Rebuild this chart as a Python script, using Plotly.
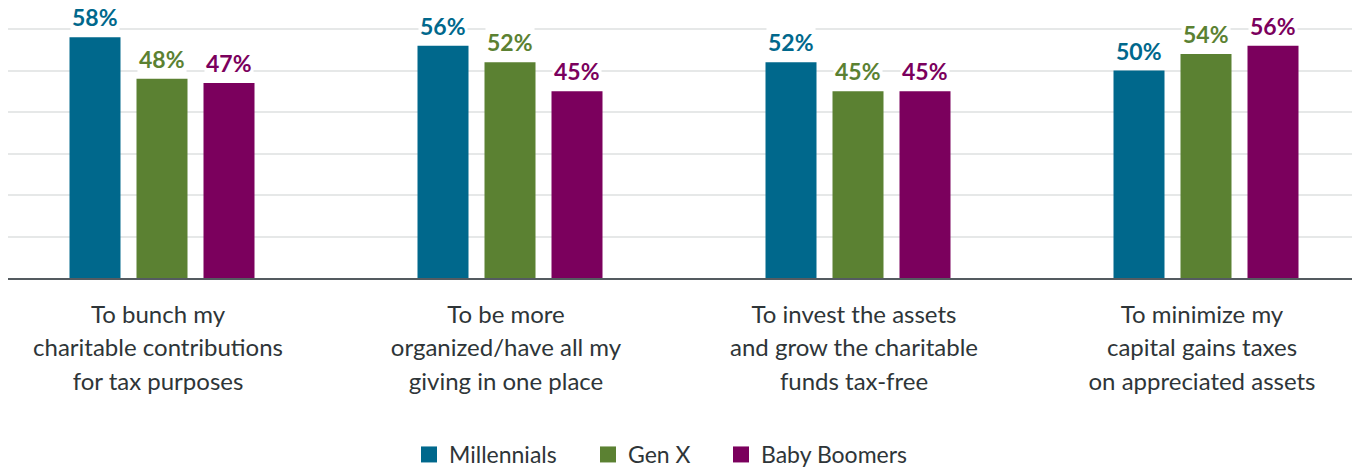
import plotly.graph_objects as go

categories = [
    "To bunch my<br>charitable contributions<br>for tax purposes",
    "To be more<br>organized/have all my<br>giving in one place",
    "To invest the assets<br>and grow the charitable<br>funds tax-free",
    "To minimize my<br>capital gains taxes<br>on appreciated assets",
]
series_names = ["Millennials", "Gen X", "Baby Boomers"]
millennials = [58, 56, 52, 50]
gen_x = [48, 52, 45, 54]
baby_boomers = [47, 45, 45, 56]
series_values = [millennials, gen_x, baby_boomers]
colors = ["#00688C", "#5B8132", "#7B005D"]
y_ticks = [0, 10, 20, 30, 40, 50, 60]

W, H = 1353, 468
ML, MR, MT, MB = 8, 1, 27, 190
plot_w = W - ML - MR
cat_px = 348.0
bar_slot_px = 67.0
bar_w_px = 51.0
first_center_px = 162.0
label_shift_px = -4.0
x0 = (ML - first_center_px) / cat_px
x1 = x0 + plot_w / cat_px
xs = list(range(len(categories)))

fig = go.Figure()
for i, (name, vals, col) in enumerate(zip(series_names, series_values, colors)):
    fig.add_trace(go.Bar(
        x=xs, y=vals, name=name,
        marker=dict(color=col, line=dict(width=0)),
        showlegend=False, hoverinfo="skip",
    ))

# legend markers (one legend per entry for precise placement)
legend_x_px = [409, 588, 721]
for i, (name, col) in enumerate(zip(series_names, colors)):
    lg = "legend" if i == 0 else f"legend{i+1}"
    fig.add_trace(go.Scatter(
        x=[None], y=[None], mode="markers", name=name,
        marker=dict(symbol="square", size=16, color=col),
        legend=lg, showlegend=True,
    ))

# value labels
offsets = [-1, 0, 1]
for vals, col, off in zip(series_values, colors, offsets):
    for ci, v in enumerate(vals):
        fig.add_annotation(
            x=ci + off * bar_slot_px / cat_px, y=v, xref="x", yref="y",
            text=f"<b>{v}%</b>", showarrow=False, yanchor="bottom",
            yshift=4, bgcolor="white", borderpad=1,
            font=dict(family="Lato", size=23, color=col),
        )

# category labels: one axis per text line for exact line spacing
lines = [c.split("<br>") for c in categories]
standoffs = [14, 53, 87]
axis_common = dict(
    range=[x0, x1], tickmode="array",
    tickvals=[x + label_shift_px / cat_px for x in xs],
    showgrid=False, zeroline=False, ticks="", automargin=False,
    tickfont=dict(family="Lato", size=24, color="#2E3538"),
)
for li in range(3):
    ax = dict(axis_common, ticktext=[l[li] for l in lines],
              ticklabelstandoff=standoffs[li])
    if li == 0:
        ax.update(showline=True, linecolor="#545B60", linewidth=2)
        fig.update_layout(xaxis=ax)
    else:
        ax.update(showline=False, overlaying="x", anchor="y", side="bottom")
        fig.update_layout({f"xaxis{li+1}": ax})
        fig.add_trace(go.Scatter(x=[None], y=[None], xaxis=f"x{li+1}",
                                 showlegend=False, hoverinfo="skip"))

fig.update_layout(
    width=W, height=H,
    margin=dict(l=ML, r=MR, t=MT, b=MB, pad=0, autoexpand=False),
    paper_bgcolor="white", plot_bgcolor="white",
    barmode="group",
    bargap=1 - bar_slot_px * 3 / cat_px,
    bargroupgap=1 - bar_w_px / bar_slot_px,
    font=dict(family="Lato", color="#2E3538"),
    yaxis=dict(
        range=[0, 60.5], tickvals=y_ticks, showticklabels=False,
        showgrid=True, gridcolor="#E6E8E8", gridwidth=1.5,
        zeroline=False, showline=False, automargin=False,
    ),
)
plot_h = H - MT - MB
leg_y = (H - MB - 454.5) / plot_h
for i in range(3):
    key = "legend" if i == 0 else f"legend{i+1}"
    fig.update_layout({key: dict(
        x=(legend_x_px[i] - ML) / plot_w, xanchor="left",
        y=leg_y, yanchor="middle", orientation="h",
        font=dict(family="Lato", size=23, color="#2E3538"),
        bgcolor="rgba(0,0,0,0)", borderwidth=0, itemsizing="trace",
    )})

fig.write_html(
    "out.html",
    config={"displayModeBar": False},
    post_script="document.body.style.margin='0';document.body.style.overflow='hidden';",
)
